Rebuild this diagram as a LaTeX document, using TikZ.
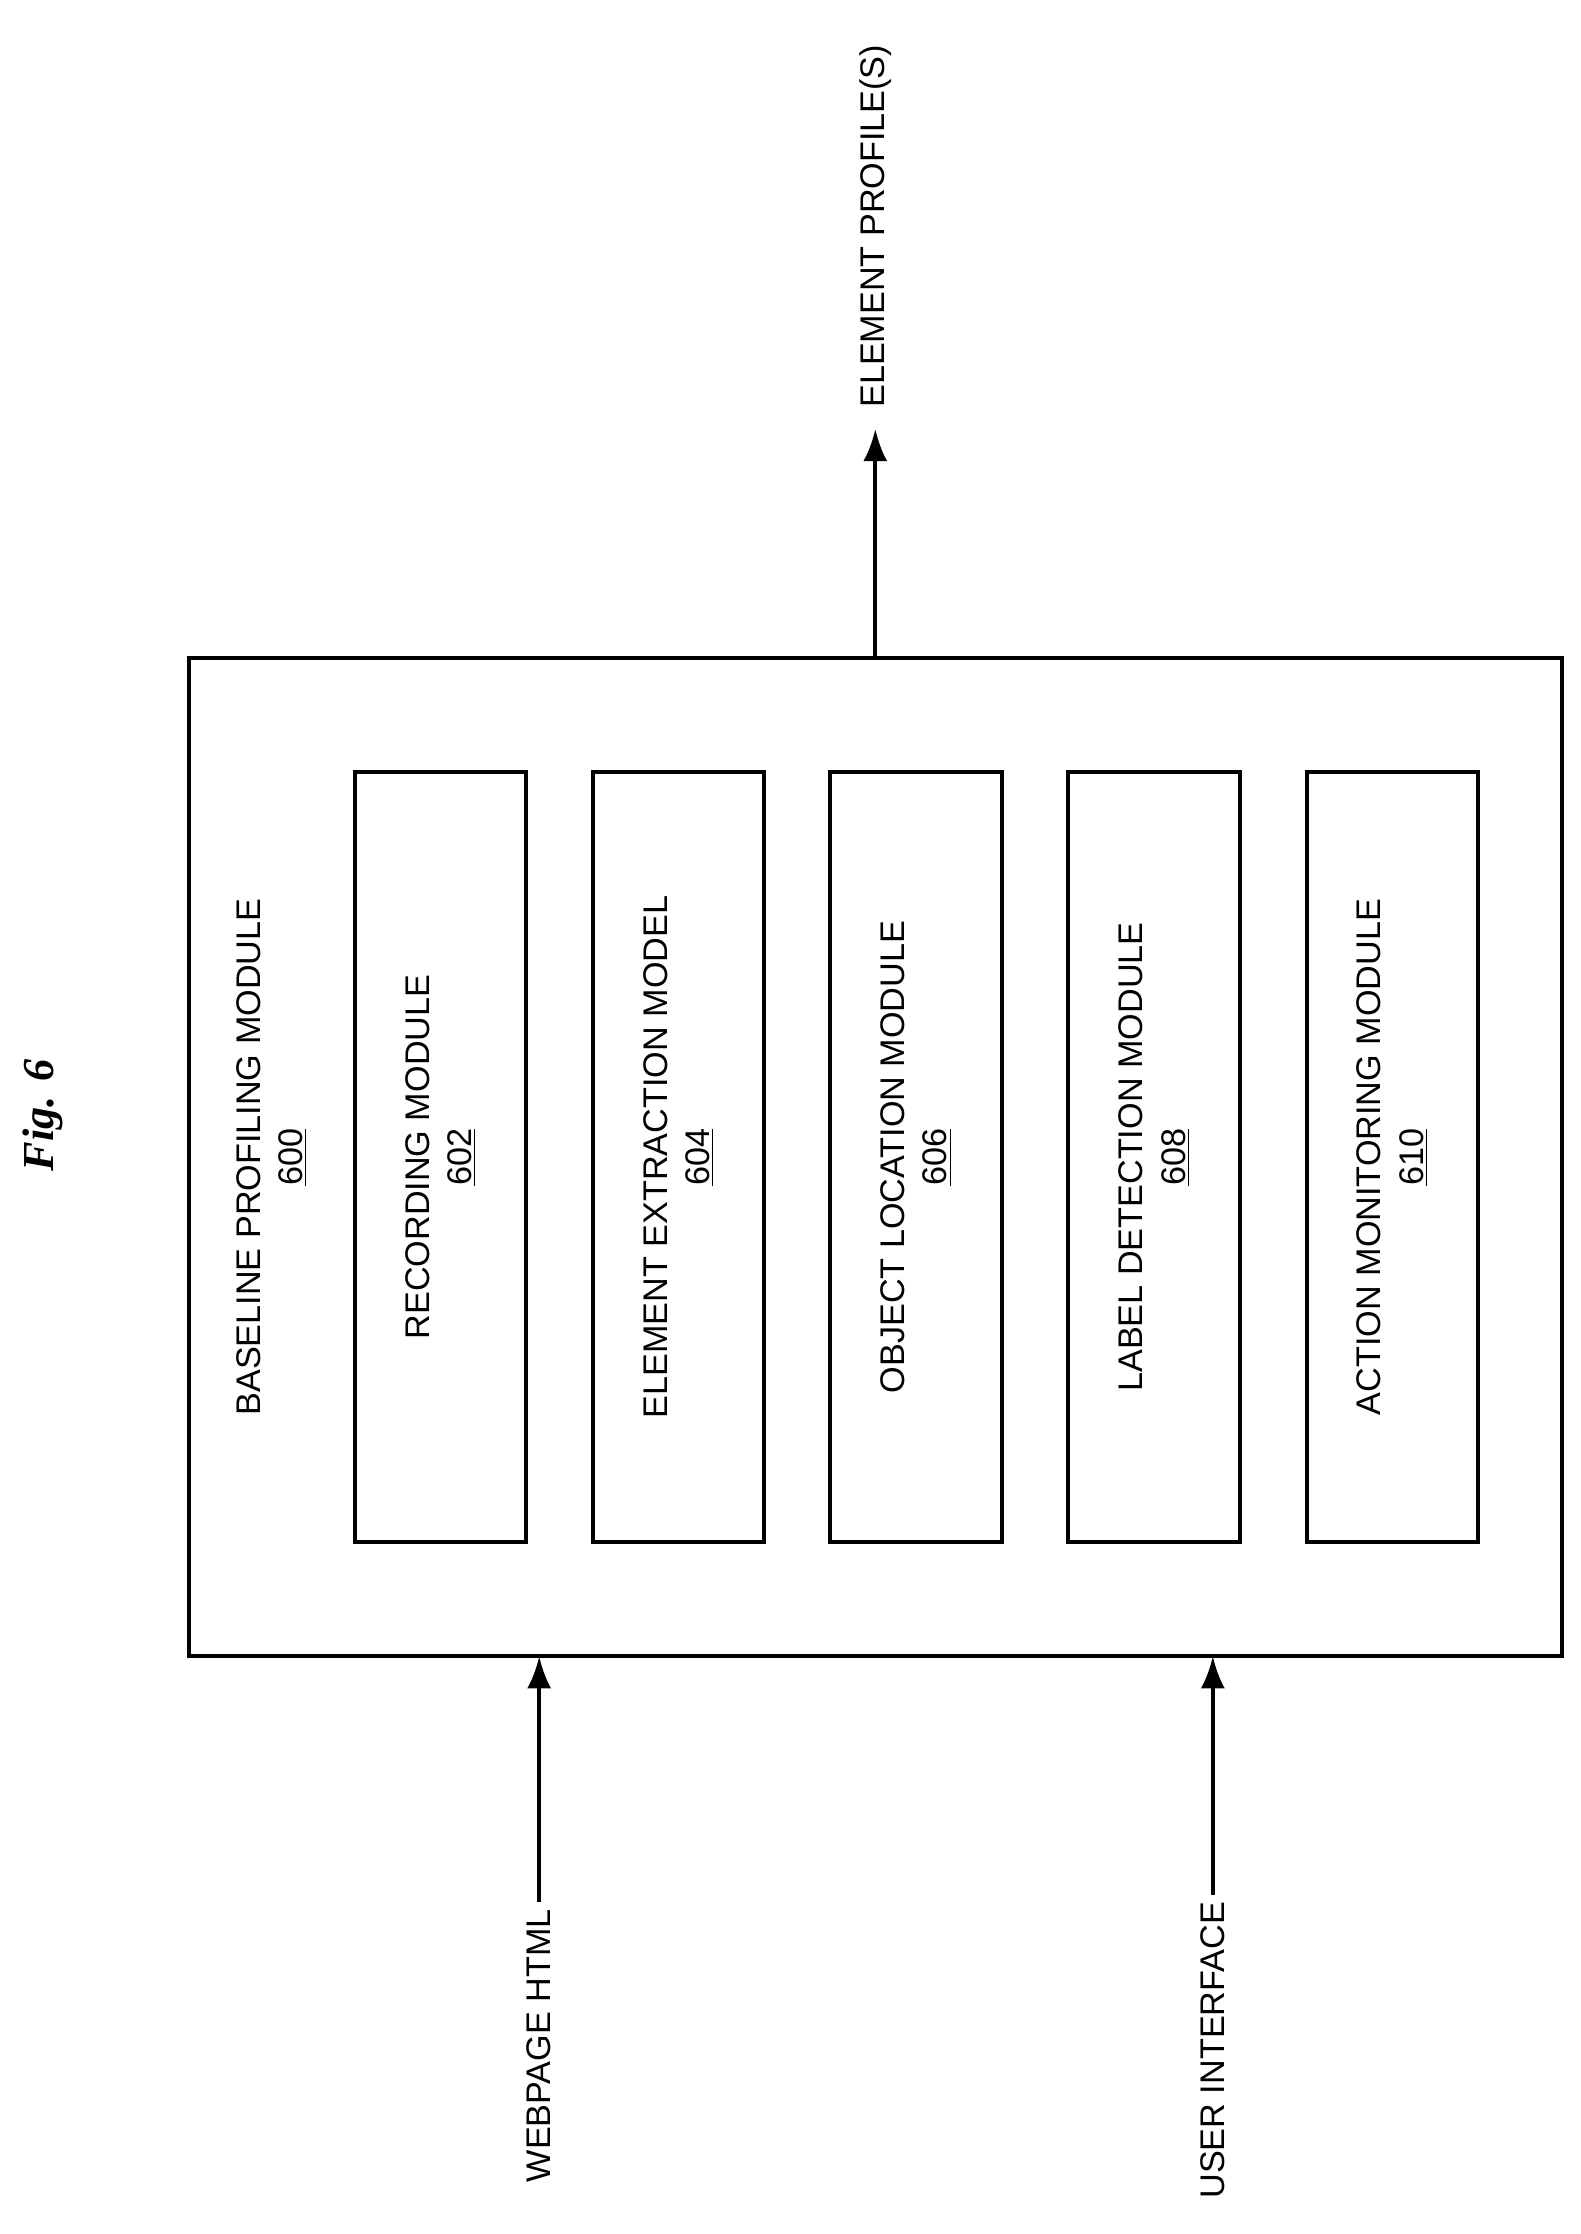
\documentclass[tikz,border=0pt]{standalone}
\usepackage{fontspec}
\setmainfont{Liberation Sans}
\newfontfamily\figfont{Liberation Serif}
\usetikzlibrary{arrows.meta}
\tikzset{
  box/.style={draw, line width=2pt},
  lbl/.style={font=\fontsize{17}{21}\selectfont, rotate=90, align=center},
  arr/.style={line width=2pt, -{Latex[length=16pt,width=12pt]}}
}
\begin{document}
\begin{tikzpicture}[x=0.025cm,y=-0.025cm]
\useasboundingbox (0,0) rectangle (1105,1562);
\node[box, minimum width=960*0.025cm, minimum height=698*0.025cm] (outer) at (612,809) {};
\node[lbl] (base) at (190,809) {BASELINE PROFILING MODULE\\\underline{600}};
\foreach \x/\n/\t in {308/602/RECORDING MODULE, 474.5/604/ELEMENT EXTRACTION MODEL, 640.5/606/OBJECT LOCATION MODULE, 807/608/LABEL DETECTION MODULE, 973.5/610/ACTION MONITORING MODULE}{
  \node[box, minimum width=120*0.025cm, minimum height=538*0.025cm] (m\n) at (\x,809) {};
  \node[lbl] (t\n) at (\x,809) {\t\\\underline{\n}};
}
\node[font=\figfont\bfseries\itshape\fontsize{22}{26}\selectfont, rotate=90] (fig) at (30,780) {Fig. 6};
\coordinate (top) at (612,300);
\draw[arr] (612,460) -- (top);
\node[lbl, anchor=west] (ep) at (612,290) {ELEMENT PROFILE(S)};
\node[lbl, anchor=east] (web) at (377,1330) {WEBPAGE HTML};
\node[lbl, anchor=east] (ui) at (848,1325) {USER INTERFACE};
\draw[arr] (web.east) -- (377,1158);
\draw[arr] (ui.east) -- (848,1158);
\end{tikzpicture}
\end{document}
